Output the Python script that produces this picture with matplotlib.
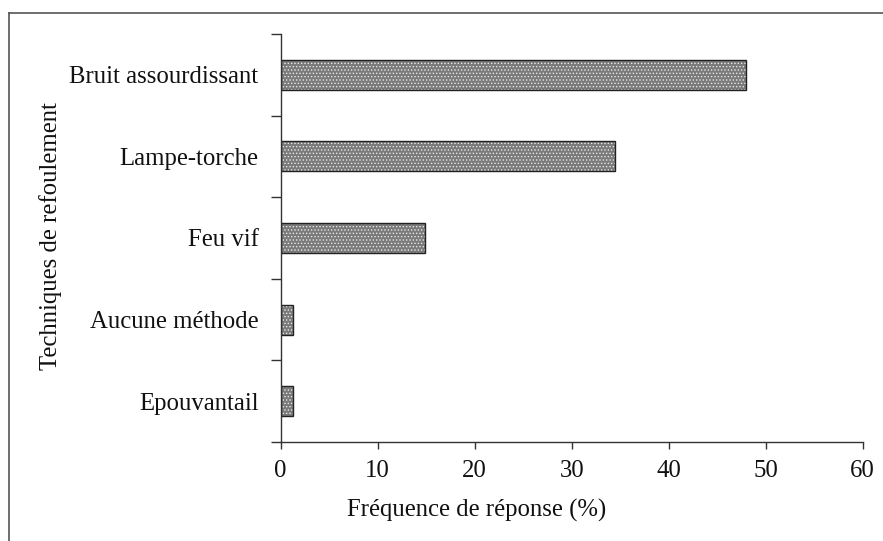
import matplotlib
matplotlib.use("Agg")
import matplotlib.pyplot as plt
from matplotlib.lines import Line2D
import numpy as np

categories = ["Bruit assourdissant", "Lampe-torche", "Feu vif", "Aucune méthode", "Epouvantail"]
values = [48.0, 34.5, 14.9, 1.3, 1.3]
xticks = [0, 10, 20, 30, 40, 50, 60]

plt.rcParams['font.family'] = ['Liberation Serif', 'DejaVu Serif']
plt.rcParams['hatch.linewidth'] = 0.6

fig = plt.figure(figsize=(8.83, 5.41), dpi=100)
ax = fig.add_axes([280.7/883, 1-442/541, (862.7-280.7)/883, (442-34)/541])

y = np.arange(len(categories))
ax.barh(y, values, height=0.37, color='#7a7a7a', hatch='.....', edgecolor='#e8e8e8', linewidth=0)
ax.barh(y, values, height=0.37, fill=False, edgecolor='#222222', linewidth=1.0)

ax.set_xlim(0, 60)
ax.set_ylim(len(categories)-0.5, -0.5)
ax.set_xticks(xticks)
ax.set_xticklabels([str(t) for t in xticks])
ax.set_yticks(y)
ax.set_yticklabels(categories)
ax.set_yticks(np.arange(len(categories)+1)-0.5, minor=True)
ax.tick_params(axis='y', which='major', length=0, pad=16, labelsize=17.8, labelcolor='#111111')
ax.tick_params(axis='y', which='minor', length=7, width=1, color='#333333', direction='out')
ax.tick_params(axis='x', which='major', length=5, width=1, color='#333333', direction='out', pad=8, labelsize=17.8, labelcolor='#111111')

for s in ['top', 'right']:
    ax.spines[s].set_visible(False)
for s in ['left', 'bottom']:
    ax.spines[s].set_color('#333333')
    ax.spines[s].set_linewidth(1.0)

fig.text(477/883, 1-510/541, "Fréquence de réponse (%)", ha='center', va='center', fontsize=17.8, color='#111111')
fig.text(51/883, 1-236/541, "Techniques de refoulement", ha='center', va='center', rotation=90, fontsize=17.8, color='#111111')

fig.add_artist(Line2D([8.5/883, 8.5/883], [0, 1-12.5/541], transform=fig.transFigure, color='#555555', lw=1.2))
fig.add_artist(Line2D([8.5/883, 1], [1-12.5/541, 1-12.5/541], transform=fig.transFigure, color='#555555', lw=1.2))

fig.savefig("out.png", dpi=100)
